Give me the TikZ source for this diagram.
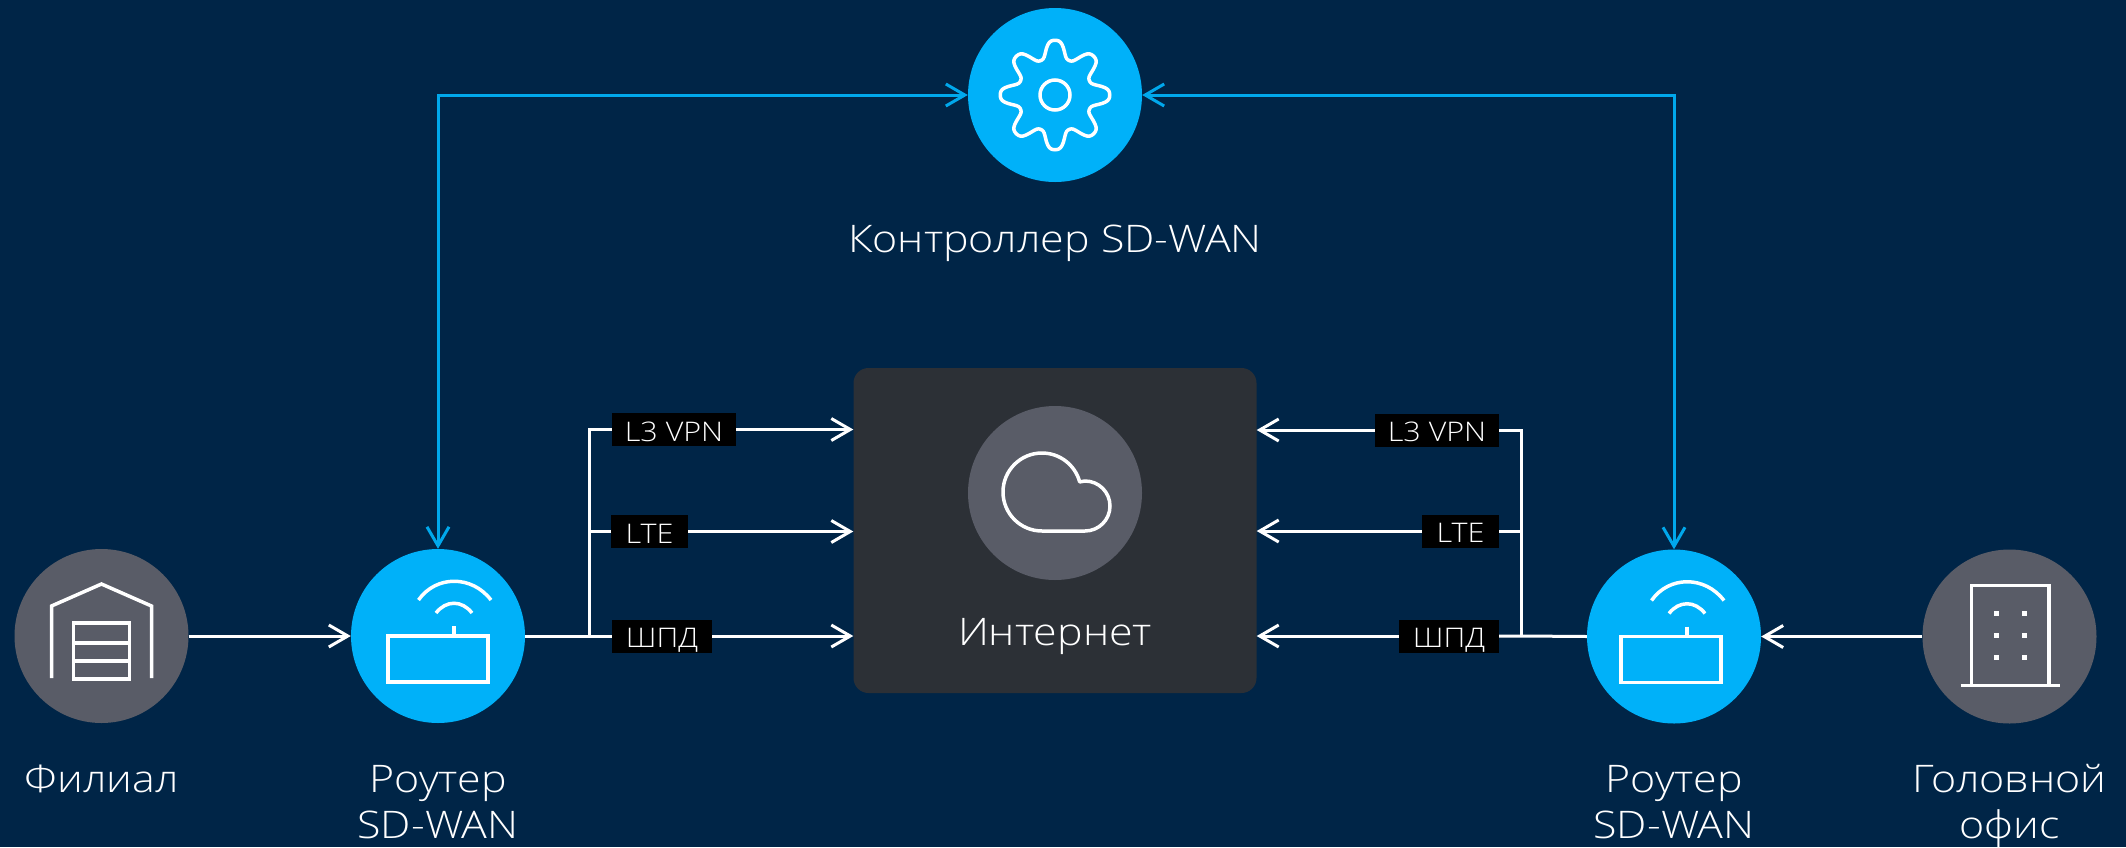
\documentclass[tikz,border=0pt]{standalone}
\usepackage{fontspec}
\setmainfont{Open Sans Light}[FakeStretch=1.13]
\usepackage{xcolor}
\usetikzlibrary{positioning,arrows.meta}

\definecolor{navybg}{HTML}{002547}
\definecolor{skyblue}{HTML}{00B1F9}
\definecolor{linkblue}{HTML}{00A8EC}
\definecolor{greydisc}{HTML}{595C67}
\definecolor{cloudbox}{HTML}{2C3036}

\tikzset{
    bluedisc/.style={circle, fill=skyblue, minimum size=174pt, inner sep=0pt},
    greyring/.style={circle, fill=greydisc, minimum size=174pt, inner sep=0pt},
    caption/.style={text=white, align=center, inner sep=0pt, font=\fontsize{38}{46.5}\selectfont},
    tag/.style={fill=black, text=white, minimum height=33pt, inner sep=0pt, text height=23pt, text depth=0pt, font=\fontsize{27}{32}\selectfont},
    wire/.style={white, line width=3pt},
    ctrlwire/.style={linkblue, line width=3pt},
    icon/.style={white, line width=3.5pt}
}

\begin{document}
\begin{tikzpicture}[x=1pt, y=-1pt, >={Straight Barb[length=19pt,width=22pt]}]
    \useasboundingbox (0,0) rectangle (2126,847);
    \fill[navybg] (0,0) rectangle (2126,847);

    % Internet box
    \node[fill=cloudbox, rounded corners=15pt, minimum width=403pt, minimum height=325pt, inner sep=0pt] (inet) at (1055,530.5) {};
    \node[greyring] (cloud) at (1055,493) {};
    \node[caption] (inetText) at (1055,636) {Интернет};

    % Discs
    \node[bluedisc] (ctrl) at (1055,95) {};
    \node[greyring] (branch) at (101.5,636) {};
    \node[bluedisc] (rtLeft) at (438,636) {};
    \node[bluedisc] (rtRight) at (1674,636.5) {};
    \node[greyring] (office) at (2009.5,636.5) {};

    % Captions
    \node[caption] (ctrlText) at (1055,243) {Контроллер SD-WAN};
    \node[caption] (branchText) at (101.5,779) {Филиал};
    \node[caption] (rtLeftText) at (438,802) {Роутер\\SD-WAN};
    \node[caption] (rtRightText) at (1674,802) {Роутер\\SD-WAN};
    \node[caption] (officeText) at (2009.5,806) {Головной\\офис};

    % Link tags
    \node[tag, minimum width=124pt] (vpnL) at (674,429.5) {L3 VPN};
    \node[tag, minimum width=77pt] (lteL) at (649.5,531.5) {LTE};
    \node[tag, minimum width=100pt] (shpdL) at (662,636) {ШПД};
    \node[tag, minimum width=124pt] (vpnR) at (1437,430) {L3 VPN};
    \node[tag, minimum width=77pt] (lteR) at (1460.5,531) {LTE};
    \node[tag, minimum width=100pt] (shpdR) at (1449,636) {ШПД};

    \coordinate (trunkL) at (589,636);
    \coordinate (trunkR) at (1521,636);

    % Left links
    \draw[->, wire] (branch) -- (rtLeft);
    \draw[wire] (rtLeft) -- (trunkL) -- (shpdL);
    \draw[wire] (trunkL) |- (vpnL);
    \draw[wire] (trunkL |- lteL) -- (lteL);
    \draw[->, wire] (vpnL) -- (vpnL -| inet.west);
    \draw[->, wire] (lteL) -- (lteL -| inet.west);
    \draw[->, wire] (shpdL) -- (shpdL -| inet.west);

    % Right links
    \draw[->, wire] (office) -- (rtRight);
    \draw[wire] (rtRight.west) -- (trunkR) -- (shpdR);
    \draw[wire] (trunkR) |- (vpnR);
    \draw[wire] (trunkR |- lteR) -- (lteR);
    \draw[->, wire] (vpnR) -- (vpnR -| inet.east);
    \draw[->, wire] (lteR) -- (lteR -| inet.east);
    \draw[->, wire] (shpdR) -- (shpdR -| inet.east);

    % Controller links
    \draw[<->, ctrlwire] (rtLeft) |- (ctrl);
    \draw[<->, ctrlwire] (rtRight) |- (ctrl);

    % Gear
    \draw[icon, shift={(ctrl)}] plot[domain=0:360, samples=181] ({(46+9.5*(cos(8*\x)-0.08*cos(24*\x)))*cos(\x)}, {(46+9.5*(cos(8*\x)-0.08*cos(24*\x)))*sin(\x)}) -- cycle;
    \draw[icon] (ctrl) circle (15);

    % Cloud
    \begin{scope}[shift={(cloud)}]
        \draw[icon, line join=round] (-13,38) arc[start angle=90, end angle=345, radius=39] -- (30,-12) arc[start angle=270, end angle=450, radius=25] -- cycle;
    \end{scope}

    % Warehouse
    \begin{scope}[shift={(branch)}]
        \draw[icon] (-50,42) -- (-50,-30) -- (0,-52) -- (50,-30) -- (50,42);
        \draw[icon] (-28,-13) rectangle (28,43);
        \draw[icon] (-28,7) -- (28,7);
        \draw[icon] (-28,25) -- (28,25);
    \end{scope}

    % Router icons
    \foreach \rt/\dx in {rtLeft/0,rtRight/-3} {
        \begin{scope}[shift={(\rt)}, xshift=\dx pt]
            \draw[icon] (-50,0) rectangle (50,46);
            \draw[icon] (16,-10) -- (16,0);
            \draw[icon] (-19.5,-36) .. controls (-2,-61) and (34,-61) .. (53,-36);
            \draw[icon] (-2,-23) .. controls (8,-36) and (24,-36) .. (34,-23);
        \end{scope}
    }

    % Office building
    \begin{scope}[shift={(office)}]
        \draw[icon] (-38,49) -- (-38,-51) -- (39.5,-51) -- (39.5,49);
        \draw[icon] (-49,49) -- (50,49);
        \foreach \wx in {-13.5,14.5} {
            \foreach \wy in {-23,-1,21} {
                \fill[white] (\wx-2.5,\wy-2.5) rectangle (\wx+2.5,\wy+2.5);
            }
        }
    \end{scope}
\end{tikzpicture}
\end{document}
